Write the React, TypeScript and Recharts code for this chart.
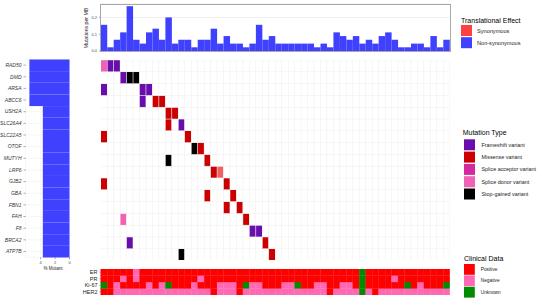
import React from "react";
import { BarChart, Bar, XAxis, YAxis, CartesianGrid, Cell } from "recharts";

// 54 tumour samples, in plot order
const sampleIds = Array.from({ length: 54 }, (_, i) => `S${String(i + 1).padStart(2, "0")}`);

// mutations per MB
const tmbValues = [
  0.156, 0.022, 0.067, 0.111, 0.267, 0.067, 0.044, 0.111, 0.133, 0.067,
  0.2, 0.044, 0.067, 0.067, 0.022, 0.067, 0.067, 0.133, 0.044, 0.089,
  0.044, 0.044, 0.022, 0.044, 0.156, 0.067, 0.089, 0.044, 0.044, 0.044,
  0.044, 0.044, 0.044, 0.022, 0.044, 0.022, 0.111, 0.089, 0.067, 0.089,
  0.044, 0.067, 0.044, 0.089, 0.111, 0.067, 0.022, 0.022, 0.044, 0.044,
  0.022, 0.089, 0.022, 0.067,
];

const genes = [
  "RAD50", "DMD", "ARSA", "ABCC6", "USH2A", "SLC26A4", "SLC22A5", "OTOF", "MUTYH",
  "LRP6", "GJB2", "GBA", "FBN1", "FAH", "F8", "BRCA2", "ATP7B",
];
const percentMutant = [5.56, 5.56, 5.56, 5.56, 3.7, 3.7, 3.7, 3.7, 3.7, 3.7, 3.7, 3.7, 3.7, 3.7, 3.7, 3.7, 3.7];

// [gene, sample index, variant type]
const mutations: [string, number, string][] = [
  ["RAD50", 0, "Splice donor variant"], ["RAD50", 1, "Frameshift variant"], ["RAD50", 2, "Frameshift variant"],
  ["DMD", 3, "Frameshift variant"], ["DMD", 4, "Stop-gained variant"], ["DMD", 5, "Stop-gained variant"],
  ["ARSA", 0, "Frameshift variant"], ["ARSA", 6, "Frameshift variant"], ["ARSA", 7, "Frameshift variant"],
  ["ABCC6", 6, "Frameshift variant"], ["ABCC6", 8, "Missense variant"], ["ABCC6", 9, "Missense variant"],
  ["USH2A", 10, "Missense variant"], ["USH2A", 11, "Missense variant"],
  ["SLC26A4", 10, "Missense variant"], ["SLC26A4", 12, "Frameshift variant"],
  ["SLC22A5", 0, "Missense variant"], ["SLC22A5", 13, "Missense variant"],
  ["OTOF", 14, "Stop-gained variant"], ["OTOF", 15, "Missense variant"],
  ["MUTYH", 10, "Stop-gained variant"], ["MUTYH", 16, "Missense variant"],
  ["LRP6", 17, "Missense variant"], ["LRP6", 18, "Multiple"],
  ["GJB2", 0, "Missense variant"], ["GJB2", 19, "Missense variant"],
  ["GBA", 16, "Missense variant"], ["GBA", 20, "Missense variant"],
  ["FBN1", 19, "Missense variant"], ["FBN1", 21, "Missense variant"],
  ["FAH", 3, "Splice donor variant"], ["FAH", 22, "Missense variant"],
  ["F8", 23, "Frameshift variant"], ["F8", 24, "Frameshift variant"],
  ["BRCA2", 4, "Frameshift variant"], ["BRCA2", 25, "Missense variant"],
  ["ATP7B", 12, "Stop-gained variant"], ["ATP7B", 26, "Missense variant"],
];

const mutationTypes = ["Frameshift variant", "Missense variant", "Splice acceptor variant", "Splice donor variant", "Stop-gained variant"];
const mutationColors = ["#6A0DAD", "#CC0000", "#D42A9E", "#F062B4", "#000000"];

const effectLabels = ["Synonymous", "Non-synonymous"];
const effectColors = ["#FF4040", "#4040FF"];

// clinical tracks: P positive, N negative, U unknown
const clinicalTracks = ["ER", "PR", "Ki-67", "HER2"];
const erStatus = ["PPPPPNPPPP", "PPPPPPPPPP", "PPPPPPPPPP", "PPPPPPPPPP", "UPPPPPPPPP", "PPPP"].join("");
const prStatus = ["PPPNPNPPPP", "PPPPPNPPPP", "PPPPPPPPPP", "PPPPPPPPPP", "UPPPPNPPPP", "PPPP"].join("");
const ki67Status = ["UPNPPPPNPN", "UPPPNPPPNN", "NPUNNPPPNN", "UPPNNPPNNP", "UPPPPPPUPN", "PPPU"].join("");
const her2Status = ["PPNNNNNNNN", "NNNNNNNPNN", "NPNNNNNNNN", "NNNNNPNNNN", "UNPNNNNNNN", "NNNN"].join("");
const clinicalLevels = ["Positive", "Negative", "Unknown"];
const clinicalColors = ["#FF0000", "#FF69B4", "#008B00"];
const statusByTrack = [erStatus, prStatus, ki67Status, her2Status];

const HEAT_LEFT = 101;
const HEAT_WIDTH = 349;
const HEAT_TOP = 59.5;
const HEAT_HEIGHT = 200.5;
const CELL_W = HEAT_WIDTH / sampleIds.length;
const GENE_BAND = 198 / genes.length;
const FONT = "'Liberation Sans', Arial, sans-serif";

const tmbRows = sampleIds.map((s, i) => ({ sample: s, tmb: tmbValues[i] }));
const geneRows = genes.map((g, i) => ({ gene: g, pct: percentMutant[i] }));
const heatRows = sampleIds.map((s) => ({ sample: s, ...Object.fromEntries(genes.map((g) => [g, 1])) }));
const clinRows = sampleIds.map((s) => ({ sample: s, ...Object.fromEntries(clinicalTracks.map((t) => [t, 1])) }));

const mutationLookup = new Map(mutations.map(([g, i, t]) => [`${g}|${i}`, t]));

function tileColor(gene: string, idx: number) {
  const t = mutationLookup.get(`${gene}|${idx}`);
  if (!t) return "#FFFFFF";
  if (t === "Multiple") return "#EF6262";
  return mutationColors[mutationTypes.indexOf(t)];
}

function clinColor(track: string, idx: number) {
  const code = statusByTrack[clinicalTracks.indexOf(track)][idx];
  return clinicalColors["PNU".indexOf(code)];
}

// full-band column: recharts rounds bar widths down, so widen to the band around its centre
const ColumnShape = (props: any) => {
  const { x, y, width, height, fill, stroke, strokeWidth } = props;
  if (height == null || width == null) return null;
  const cx = x + width / 2;
  const top = height < 0 ? y + height : y;
  return <rect x={cx - CELL_W / 2} y={top} width={CELL_W} height={Math.abs(height)} fill={fill} stroke={stroke} strokeWidth={strokeWidth} />;
};

const RowShape = (props: any) => {
  const { x, y, width, height, fill } = props;
  if (height == null || width == null) return null;
  const cy = y + height / 2;
  const left = width < 0 ? x + width : x;
  return <rect x={left} y={cy - GENE_BAND / 2} width={Math.abs(width)} height={GENE_BAND} fill={fill} />;
};

export default function App() {
  return (
    <div style={{ position: "absolute", left: 0, top: 0, width: 550, height: 300, background: "#fff", fontFamily: FONT }}>
      {/* mutation burden */}
      <div style={{ position: "absolute", left: 0, top: 0 }}>
        <BarChart width={460} height={60} data={tmbRows} margin={{ top: 4, right: 10, bottom: 9, left: 71 }} barCategoryGap={0}>
          <CartesianGrid vertical={false} stroke="#e3e3e3" strokeWidth={0.6} />
          <XAxis dataKey="sample" hide />
          <YAxis
            width={30}
            type="number"
            domain={[0, 0.28]}
            ticks={[0, 0.1, 0.2]}
            tickFormatter={(v) => Number(v).toFixed(1)}
            tick={{ fontSize: 4, fill: "#4d4d4d", fontFamily: FONT }}
            tickSize={2}
            tickLine={{ stroke: "#4d4d4d", strokeWidth: 0.5 }}
            axisLine={false}
          />
          <Bar dataKey="tmb" fill="#4040FF" shape={ColumnShape} isAnimationActive={false} />
        </BarChart>
      </div>
      <div style={{ position: "absolute", left: 99.5, top: 4, width: 351.5, height: 48, border: "1px solid #a8a8a8", boxSizing: "border-box" }} />

      {/* percent mutant per gene */}
      <div style={{ position: "absolute", left: 0, top: 50 }}>
        <BarChart layout="vertical" width={80} height={224} data={geneRows} margin={{ top: 9.3, right: 10.5, bottom: 0, left: 0 }} barCategoryGap={0}>
          <CartesianGrid stroke="#ececec" strokeWidth={0.5} />
          <XAxis
            type="number"
            dataKey="pct"
            reversed
            domain={[0, 6.1]}
            ticks={[0, 2, 4]}
            tick={{ fontSize: 4, fill: "#4d4d4d", fontFamily: FONT }}
            tickSize={2}
            tickLine={{ stroke: "#4d4d4d", strokeWidth: 0.5 }}
            axisLine={false}
            height={16.7}
          />
          <YAxis
            type="category"
            dataKey="gene"
            width={25.5}
            interval={0}
            tick={{ fontSize: 5, fontStyle: "italic", fill: "#333", fontFamily: FONT }}
            tickSize={2}
            tickLine={{ stroke: "#4d4d4d", strokeWidth: 0.5 }}
            axisLine={false}
          />
          <Bar dataKey="pct" fill="#4040FF" shape={RowShape} isAnimationActive={false} />
        </BarChart>
      </div>

      {/* oncoprint tiles */}
      <div style={{ position: "absolute", left: HEAT_LEFT, top: HEAT_TOP }}>
        <BarChart width={HEAT_WIDTH} height={HEAT_HEIGHT} data={heatRows} margin={{ top: 0, right: 0, bottom: 0, left: 0 }} barCategoryGap={0} barGap={0}>
          <XAxis dataKey="sample" hide />
          <YAxis hide type="number" domain={[0, genes.length]} />
          {[...genes].reverse().map((g) => (
            <Bar key={g} dataKey={g} stackId="tiles" shape={ColumnShape} isAnimationActive={false}>
              {sampleIds.map((s, i) => (
                <Cell key={s} fill={tileColor(g, i)} stroke="#efefef" strokeWidth={0.45} />
              ))}
            </Bar>
          ))}
        </BarChart>
      </div>

      {/* clinical tracks */}
      <div style={{ position: "absolute", left: HEAT_LEFT - 22, top: 269 }}>
        <BarChart width={HEAT_WIDTH + 22} height={26} data={clinRows} margin={{ top: 0, right: 0, bottom: 0, left: 0 }} barCategoryGap={0} barGap={0}>
          <XAxis dataKey="sample" hide />
          <YAxis
            width={22}
            type="number"
            domain={[0, 4]}
            ticks={[0.5, 1.5, 2.5, 3.5]}
            interval={0}
            tickFormatter={(v) => clinicalTracks[3 - Math.floor(Number(v))]}
            tick={{ fontSize: 5.5, fill: "#222", fontFamily: FONT }}
            tickSize={1.5}
            tickLine={{ stroke: "#4d4d4d", strokeWidth: 0.5 }}
            axisLine={false}
          />
          {[...clinicalTracks].reverse().map((t) => (
            <Bar key={t} dataKey={t} stackId="clin" shape={ColumnShape} isAnimationActive={false}>
              {sampleIds.map((s, i) => (
                <Cell key={s} fill={clinColor(t, i)} stroke={clinColor(t, i)} strokeWidth={0.3} />
              ))}
            </Bar>
          ))}
        </BarChart>
      </div>

      {/* titles and legends */}
      <svg width={550} height={300} style={{ position: "absolute", left: 0, top: 0, pointerEvents: "none" }} fontFamily={FONT}>
        <text transform="translate(87.5,28) rotate(-90)" textAnchor="middle" fontSize={5.2} fill="#222">
          Mutations per MB
        </text>
        <text x={53} y={269.5} textAnchor="middle" fontSize={4.5} fill="#222">
          % Mutant
        </text>

        <text x={461} y={23.3} fontSize={7} fill="#000">Translational Effect</text>
        {effectLabels.map((l, i) => (
          <g key={l}>
            <rect x={461} y={25 + i * 12.2} width={11} height={11} fill={effectColors[i]} />
            <text x={477} y={32.6 + i * 12.2} fontSize={5.6} fill="#222">{l}</text>
          </g>
        ))}

        <text x={462.7} y={135} fontSize={7} fill="#000">Mutation Type</text>
        {mutationTypes.map((l, i) => (
          <g key={l}>
            <rect x={464} y={139.3 + i * 12.3} width={11} height={11} fill={mutationColors[i]} />
            <text x={481.5} y={146.8 + i * 12.3} fontSize={5.4} fill="#222">{l}</text>
          </g>
        ))}

        <text x={464} y={260.8} fontSize={7} fill="#000">Clinical Data</text>
        {clinicalLevels.map((l, i) => (
          <g key={l}>
            <rect x={464} y={264 + i * 11.4} width={10.8} height={10.8} fill={clinicalColors[i]} />
            <text x={480.7} y={271 + i * 11.4} fontSize={4.8} fill="#222">{l}</text>
          </g>
        ))}
      </svg>
    </div>
  );
}
